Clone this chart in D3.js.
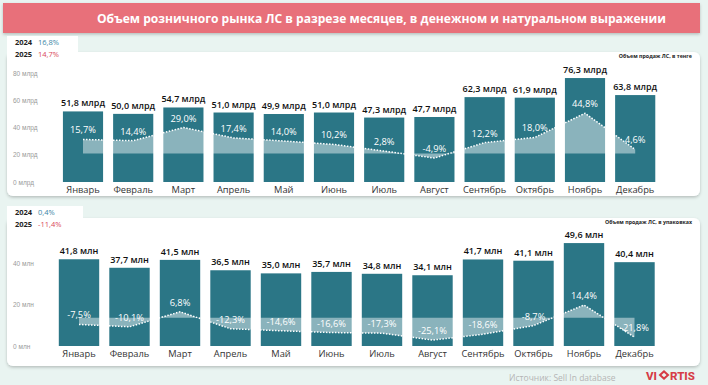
<!DOCTYPE html>
<html>
  <head>
    <meta charset="utf-8">
    <title>Объем розничного рынка ЛС</title>
    <script src="https://cdn.jsdelivr.net/npm/d3@7/dist/d3.min.js"></script>
    <style>
      body { margin: 0; background: #e9f4f1; }
      svg { display: block; font-family: "Open Sans", "Noto Sans", sans-serif; }
      .tick text { fill: #9a9a9a; font-size: 6.5px; }
    </style>
  </head>
  <body>
    <svg id="chart" width="708" height="385"></svg>
    <script>
      // data
      var months = ["Январь", "Февраль", "Март", "Апрель", "Май", "Июнь",
                    "Июль", "Август", "Сентябрь", "Октябрь", "Ноябрь", "Декабрь"];
      var salesMoney = [51.8, 50.0, 54.7, 51.0, 49.9, 51.0, 47.3, 47.7, 62.3, 61.9, 76.3, 63.8];
      var growthMoney = [15.7, 14.4, 29.0, 17.4, 14.0, 10.2, 2.8, -4.9, 12.2, 18.0, 44.8, 4.6];
      var salesUnits = [41.8, 37.7, 41.5, 36.5, 35.0, 35.7, 34.8, 34.1, 41.7, 41.1, 49.6, 40.4];
      var growthUnits = [-7.5, -10.1, 6.8, -12.3, -14.6, -16.6, -17.3, -25.1, -18.6, -8.7, 14.4, -21.8];
      var moneyTicks = [0, 20, 40, 60, 80];
      var unitsTicks = [0, 20, 40];
      var yearTotalsMoney = [["2024", "16,8%"], ["2025", "14,7%"]];
      var yearTotalsUnits = [["2024", "0,4%"], ["2025", "-11,4%"]];

      var locale = d3.formatLocale({ decimal: ",", thousands: " ", grouping: [3], currency: ["", ""], minus: "-" });
      var f1 = locale.format(".1f");

      var svg = d3.select("#chart");
      var barColor = "#2b7686";

      var defs = svg.append("defs");
      var shadow = defs.append("filter").attr("id", "shadow")
        .attr("x", "-5%").attr("y", "-10%").attr("width", "110%").attr("height", "125%");
      shadow.append("feDropShadow").attr("dx", 0).attr("dy", 1.5).attr("stdDeviation", 1.8)
        .attr("flood-color", "#000").attr("flood-opacity", 0.22);

      svg.append("rect").attr("width", 708).attr("height", 385).attr("fill", "#e9f4f1");

      // title bar
      svg.append("rect").attr("x", 3).attr("y", 3).attr("width", 697).attr("height", 30)
        .attr("fill", "#e8707a").attr("filter", "url(#shadow)");
      svg.append("text").attr("x", 97).attr("y", 22.5)
        .attr("fill", "#fff").attr("font-size", 12.5).attr("font-weight", 700)
        .attr("textLength", 569).attr("lengthAdjust", "spacingAndGlyphs")
        .text("Объем розничного рынка ЛС в разрезе месяцев, в денежном и натуральном выражении");

      function drawPanel(cfg) {
        var g = svg.append("g");

        // legend tab + card
        g.append("rect").attr("x", 7).attr("y", cfg.tabY).attr("width", cfg.tabW).attr("height", 26)
          .attr("fill", "#fff");
        g.append("rect").attr("x", 7).attr("y", cfg.cardY).attr("width", 693).attr("height", cfg.cardH)
          .attr("rx", 6).attr("fill", "#fff").attr("filter", "url(#shadow)");
        g.append("rect").attr("x", 7).attr("y", cfg.tabY).attr("width", cfg.tabW).attr("height", cfg.cardY - cfg.tabY + 8)
          .attr("fill", "#fff");

        cfg.totals.forEach(function (t, i) {
          var ty = cfg.tabY + 9 + i * 11.5;
          g.append("text").attr("x", 15).attr("y", ty).attr("font-size", 7.5).attr("font-weight", 700)
            .attr("fill", "#222").text(t[0]);
          g.append("text").attr("x", 38).attr("y", ty).attr("font-size", 7.5)
            .attr("fill", i === 0 ? "#3b86a6" : "#d9475a").text(t[1]);
        });

        g.append("text").attr("x", 692).attr("y", cfg.cardY + 5.5).attr("text-anchor", "end")
          .attr("font-size", 5.3).attr("font-weight", 700).attr("fill", "#222").text(cfg.caption);

        var x = d3.scaleBand().domain(months).range(cfg.xRange).paddingInner(0.2).paddingOuter(0.1);
        var y = d3.scaleLinear().domain(cfg.yDomain).range(cfg.yRange);
        var y2 = d3.scaleLinear().domain(cfg.pctDomain).range(cfg.yRange);

        var axis = g.append("g").attr("transform", "translate(13,0)")
          .call(d3.axisLeft(y).tickValues(cfg.ticks).tickSize(0).tickFormat(function (d) { return d + " " + cfg.unit; }));
        axis.select(".domain").remove();
        axis.selectAll("text").attr("x", 0).attr("text-anchor", "start");

        g.selectAll(".bar").data(cfg.values).join("rect")
          .attr("x", function (d, i) { return x(months[i]); })
          .attr("y", function (d) { return y(d); })
          .attr("width", x.bandwidth())
          .attr("height", function (d) { return y(0) - y(d); })
          .attr("fill", barColor);

        var pts = cfg.growth.map(function (d, i) { return [x(months[i]) + x.bandwidth() / 2, y2(d)]; });

        g.append("path").datum(pts)
          .attr("d", d3.area().x(function (p) { return p[0]; }).y0(y2(0)).y1(function (p) { return p[1]; }))
          .attr("fill", "#fff").attr("fill-opacity", 0.45);
        g.append("path").datum(pts)
          .attr("d", d3.line())
          .attr("fill", "none").attr("stroke", "#fff").attr("stroke-width", 1.5)
          .attr("stroke-dasharray", "1.5,1.5");

        g.selectAll(".pct").data(cfg.growth).join("text")
          .attr("x", function (d, i) { return x(months[i]) + x.bandwidth() / 2; })
          .attr("y", function (d) { return y2(d) - 6; })
          .attr("text-anchor", "middle").attr("font-size", 9.3).attr("fill", "#fff")
          .text(function (d) { return f1(d) + "%"; });

        g.selectAll(".val").data(cfg.values).join("text")
          .attr("x", function (d, i) { return x(months[i]) + x.bandwidth() / 2; })
          .attr("y", function (d) { return y(d) - 5; })
          .attr("text-anchor", "middle").attr("font-size", 9).attr("font-weight", 600).attr("fill", "#111")
          .text(function (d) { return f1(d) + " " + cfg.unit; });

        g.selectAll(".month").data(months).join("text")
          .attr("x", function (d) { return x(d) + x.bandwidth() / 2; })
          .attr("y", y(0) + 11)
          .attr("text-anchor", "middle").attr("font-size", 9.3).attr("fill", "#333")
          .text(function (d) { return d; });
      }

      drawPanel({
        tabY: 36, tabW: 71, cardY: 52, cardH: 144,
        totals: yearTotalsMoney, caption: "Объем продаж ЛС, в тенге",
        xRange: [57.9, 660.3], yDomain: [0, 80], yRange: [182, 73],
        pctDomain: [-31.5, 89.5], ticks: moneyTicks, unit: "млрд",
        values: salesMoney, growth: growthMoney
      });

      drawPanel({
        tabY: 206, tabW: 76, cardY: 218, cardH: 148,
        totals: yearTotalsUnits, caption: "Объем продаж ЛС, в упаковках",
        xRange: [53.75, 659.75], yDomain: [0, 60], yRange: [346, 221.5],
        pctDomain: [-31.8, 108.7], ticks: unitsTicks, unit: "млн",
        values: salesUnits, growth: growthUnits
      });

      // footer
      svg.append("text").attr("x", 509).attr("y", 380.5).attr("font-size", 8.5).attr("fill", "#b5b5b5")
        .text("Источник: Sell In database");
      var logo = svg.append("g").attr("fill", "#d63c46").attr("font-weight", 800).attr("font-size", 11.5)
        .attr("font-family", "Roboto, 'Open Sans', sans-serif");
      logo.append("text").attr("x", 646).attr("y", 380).text("VI");
      logo.append("path").attr("d", "M664,370 L669.5,375 L664,380 L658.5,375 Z M664,372.8 L666.5,375 L664,377.2 L661.5,375 Z")
        .attr("fill-rule", "evenodd");
      logo.append("text").attr("x", 670).attr("y", 380).text("RTIS");
    </script>
  </body>
</html>
